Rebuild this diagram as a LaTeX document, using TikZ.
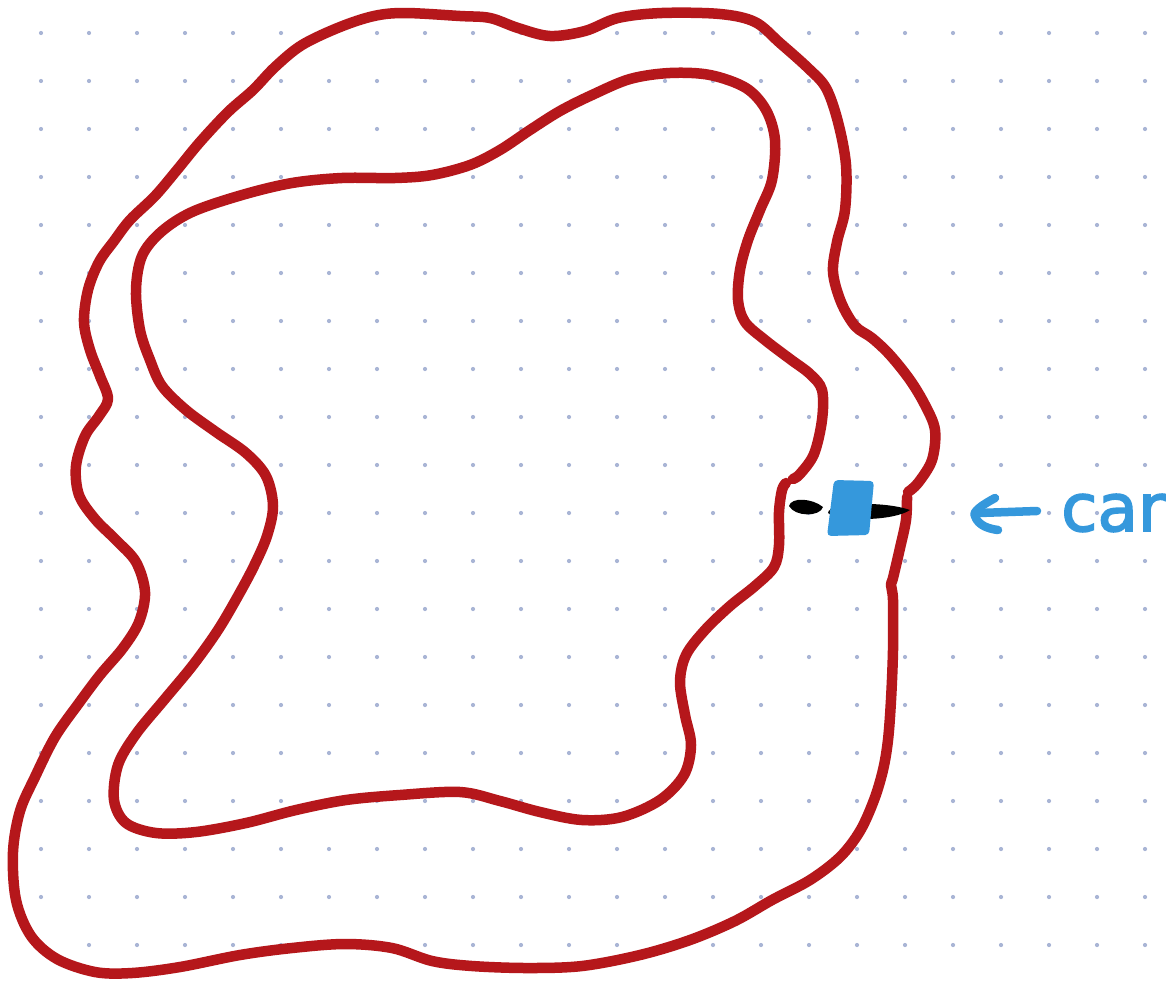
\documentclass[tikz,border=0pt]{standalone}
\usepackage{fontspec}
\newfontfamily\carfont[FakeBold=2.5]{DejaVu Sans}
\definecolor{trackred}{HTML}{B5171B}
\definecolor{carblue}{HTML}{3598DC}
\definecolor{dotc}{HTML}{A9B5D5}
\tikzset{
  track/.style={draw=trackred, line width=10.5pt, line cap=round, line join=round},
  bluestroke/.style={draw=carblue, line width=8.5pt, line cap=round, line join=round},
}
\begin{document}
\begin{tikzpicture}[x=1pt,y=-1pt]
\useasboundingbox (0,0) rectangle (1174,980);
\fill[white] (0,0) rectangle (1174,980);
% dot grid
\foreach \i in {0,...,23}{
  \foreach \j in {0,...,19}{
    \fill[dotc] ({41+48*\i},{33+48*\j}) circle (2.1pt);
  }
}
% outer loop
\draw[track] plot[smooth, tension=0.55] coordinates {
 (908,492) (918,483) (932,460) (935,430) (925,405) (910,380) (890,355) (872,338) (855,326)
 (841,302) (833,272) (837,242) (845,210) (846,165) (838,122) (826,88) (808,68) (780,43)
 (755,22) (720,14) (662,13) (618,18) (585,31) (550,36) (518,28) (490,18) (460,16)
 (405,13) (374,16) (340,27) (302,45) (275,67) (253,90) (228,112) (200,142) (177,170)
 (155,196) (130,220) (114,241) (99,262) (88,290) (84,322) (90,350) (100,376) (108,399)
 (99,416) (85,436) (76,466) (79,495) (95,519) (116,540) (136,562) (145,592) (139,622)
 (123,648) (100,675) (79,703) (55,737) (35,777) (20,811) (13,852) (16,900) (31,936)
 (57,959) (95,972) (132,973) (180,967) (240,955) (292,948) (345,944) (392,948)
 (432,961) (472,966) (527,968) (582,966) (640,955) (690,940) (735,921) (772,900)
 (810,880) (840,857) (860,831) (874,800) (883,770) (888,740) (891,700) (893,650)
 (893,600) (891,585) (893,578) (900,548) (906,520) (907,497)
};
% inner loop
\draw[track] plot[smooth, tension=0.55] coordinates {
 (793,479) (800,474) (814,454) (822,420) (822,390) (810,374) (790,359) (765,340)
 (745,322) (738,300) (740,270) (748,240) (760,210) (772,180) (775,140) (766,110)
 (746,88) (710,75) (670,73) (630,79) (592,95) (560,111) (530,130) (500,150) (470,165)
 (432,175) (395,178) (342,178) (292,183) (242,195) (192,212) (161,232) (142,256)
 (136,290) (140,330) (150,360) (162,386) (186,410) (216,432) (246,453) (266,476)
 (273,506) (267,536) (254,566) (238,596) (218,630) (193,665) (164,700) (136,734)
 (118,765) (114,800) (126,823) (156,833) (196,832) (246,823) (296,810) (346,800)
 (400,795) (460,792) (500,801) (540,812) (582,820) (622,817) (660,800) (684,775)
 (691,745) (685,715) (680,682) (686,655) (705,630) (730,606) (755,586) (774,567)
 (779,545) (779,512) (782,490) (786,483)
};
% black spokes (start line)
\fill[black] (789,506) .. controls (791,497) and (812,498) .. (823,507)
  .. controls (820,517) and (795,517) .. (789,506) -- cycle;
\fill[black] (828,513) .. controls (828,502) and (885,501) .. (910,510)
  .. controls (894,521) and (840,522) .. (828,513) -- cycle;
% car (blue block)
\fill[carblue, rounded corners=4pt] (834,480) -- (874,481) -- (869,535) -- (827,536) -- cycle;
% arrow
\coordinate (arrowtip) at (975,516);
\draw[bluestroke] (1037,511) -- (979,513);
\draw[bluestroke] (995,498) .. controls (982,505) and (972,512) .. (arrowtip)
  .. controls (978,526) and (990,529) .. (998,530);
% label
\node[text=carblue, font=\carfont\fontsize{66}{68}\selectfont, anchor=base west, inner sep=0pt] (car) at (1061,531) {car};
\end{tikzpicture}
\end{document}
